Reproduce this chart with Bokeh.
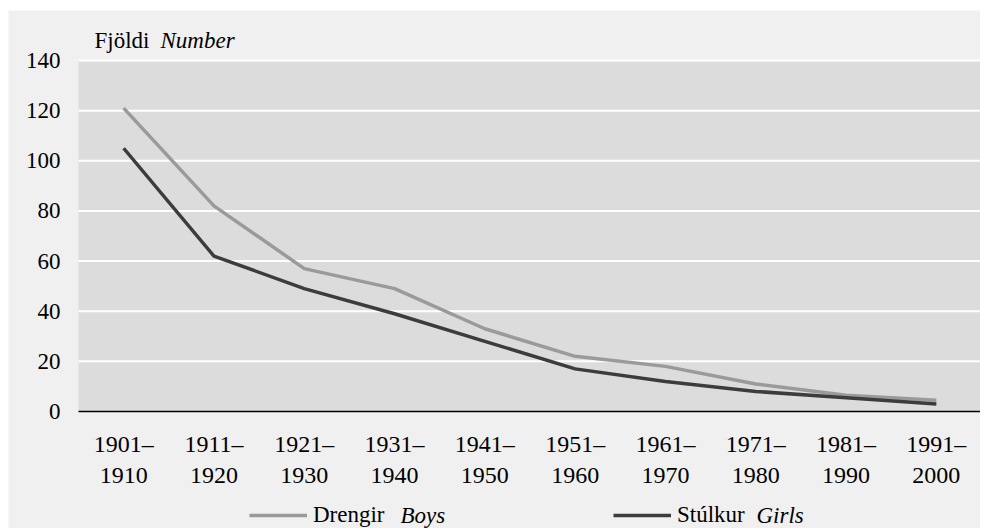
from bokeh.plotting import figure
from bokeh.models import Legend, LegendItem, Label, Range1d, BoxAnnotation
from bokeh.core.properties import value
from bokeh.embed import file_html
from bokeh.resources import INLINE

# ---- data ----
period_start = ["1901–", "1911–", "1921–", "1931–", "1941–", "1951–", "1961–", "1971–", "1981–", "1991–"]
period_end = ["1910", "1920", "1930", "1940", "1950", "1960", "1970", "1980", "1990", "2000"]
boys = [121, 82, 57, 49, 33, 22, 18, 11, 6.5, 4.5]
girls = [105, 62, 49, 39, 28, 17, 12, 8, 5.5, 3]
y_ticks = [0, 20, 40, 60, 80, 100, 120, 140]
y_tick_labels = [str(v) for v in y_ticks]

FONT = "Liberation Serif"
FS = "23px"
FSX = "24px"
BOYS_C = "#9a9a9a"
GIRLS_C = "#3c3c3c"

W, H = 980, 528
# plot-area placement in pixels
PL, PR, PT, PB = 78, 981, 60, 411
n = len(boys)
xs = list(range(n))
xppu = (PR - PL) / n            # px per category
yppu = (PB - PT) / 140.0        # px per unit
x0 = -0.5 - PL / xppu
x1 = -0.5 + (W - PL) / xppu
y1 = 140 + PT / yppu
y0 = -(H - PB) / yppu

p = figure(width=W, height=H, output_backend="svg", toolbar_location=None,
           x_range=Range1d(x0, x1), y_range=Range1d(y0, y1),
           min_border=0)
p.xaxis.visible = False
p.yaxis.visible = False
p.xgrid.visible = False
p.ygrid.visible = False
p.background_fill_color = "white"
p.border_fill_color = "white"
p.outline_line_color = None

# chart background (page margin left white)
p.add_layout(BoxAnnotation(left=x0 + 8 / xppu, right=x1, bottom=y0, top=y1 - 10 / yppu,
                           fill_color="#f0f0f0", fill_alpha=1, line_color=None, level="underlay"))
# plot area
p.add_layout(BoxAnnotation(left=-0.5, right=n - 0.5, bottom=0, top=140,
                           fill_color="#dcdcdc", fill_alpha=1, line_color=None, level="underlay"))
# gridlines
p.segment(x0=[-0.5] * (len(y_ticks) - 1), x1=[n - 0.5] * (len(y_ticks) - 1),
          y0=y_ticks[1:], y1=y_ticks[1:], line_color="white", line_width=2)
# x axis line
p.segment(x0=[-0.5], x1=[n - 0.5], y0=[0], y1=[0], line_color="black", line_width=1.5)

r_boys = p.line(xs, boys, line_color=BOYS_C, line_width=3.5)
r_girls = p.line(xs, girls, line_color=GIRLS_C, line_width=3.5)

# y tick labels
p.text(x=[-0.5 - 18 / xppu] * len(y_ticks), y=y_ticks, text=y_tick_labels,
       text_font=value(FONT), text_font_size=FS, text_color="black",
       text_align="right", text_baseline="middle")
# x tick labels (two lines)
p.text(x=xs, y=[-32 / yppu] * n, text=period_start,
       text_font=value(FONT), text_font_size=FSX, text_color="black",
       text_align="center", text_baseline="middle")
p.text(x=xs, y=[-64 / yppu] * n, text=period_end,
       text_font=value(FONT), text_font_size=FSX, text_color="black",
       text_align="center", text_baseline="middle")

# legends
def make_legend(label, r, loc):
    lg = Legend(items=[LegendItem(label=label, renderers=[r])], location=loc,
                orientation="horizontal", glyph_width=58, glyph_height=20,
                label_standoff=6, padding=0, margin=0, border_line_color=None,
                background_fill_alpha=0, label_text_font=FONT,
                label_text_font_size=FS, label_text_color="black")
    p.add_layout(lg, "center")

make_legend("Drengir", r_boys, (249, 0))
make_legend("Stúlkur", r_girls, (613, 0))

def lab(txt, x, y, italic=False):
    p.add_layout(Label(x=x, y=y, x_units="screen", y_units="screen", text=txt,
                       text_font=FONT, text_font_size=FS, text_color="black",
                       text_font_style="italic" if italic else "normal",
                       text_baseline="middle", text_align="left"))

lab("Fjöldi", 94, H - 40)
lab("Number", 160, H - 40, italic=True)
lab("Boys", 400, H - 515, italic=True)
lab("Girls", 756, H - 515, italic=True)

open("out.html", "w").write(file_html(p, INLINE))
